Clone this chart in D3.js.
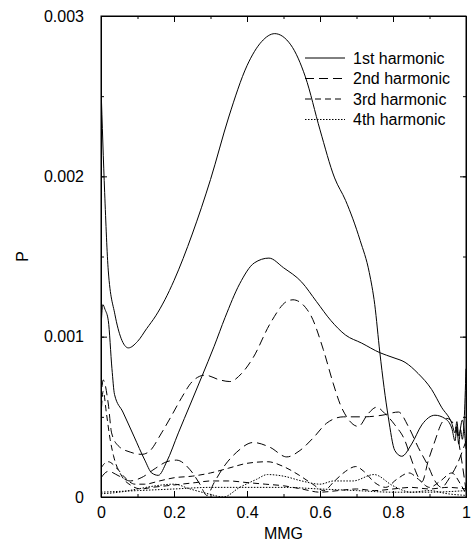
<!DOCTYPE html>
<html>
<head>
<meta charset="utf-8">
<script src="https://cdn.jsdelivr.net/npm/d3@7"></script>
<style>
  body { margin: 0; background: #fff; }
  text { font-family: "Liberation Sans", Arial, sans-serif; font-size: 16px; fill: #000; }
</style>
</head>
<body>
<div id="chart"></div>
<script>
// harmonic power curves as [MMG, P]
var h1a = [[0,0.00256],[0.01,0.0019],[0.02,0.00141],[0.038,0.00114],[0.055,0.00099],[0.075,0.00093],[0.1,0.00097],[0.125,0.00105],[0.15,0.00113],[0.175,0.00123],[0.2,0.00135],[0.25,0.00164],[0.3,0.00198],[0.35,0.00237],[0.4,0.00269],[0.44,0.00284],[0.476,0.00289],[0.52,0.00282],[0.56,0.00262],[0.6,0.00229],[0.64,0.00199],[0.67,0.00185],[0.71,0.0016],[0.735,0.0014],[0.75,0.0012],[0.764,0.0009],[0.787,0.0005],[0.805,0.00029],[0.824,0.000254],[0.851,0.00033],[0.879,0.00045],[0.915,0.00051],[0.942,0.00049],[0.961,0.00043],[0.97,0.00035],[0.975,0.00044],[0.98,0.00033],[0.985,0.00042],[0.99,0.00036],[0.995,0.00048],[1,0.0008]];
var h1b = [[0,0.00105],[0.005,0.0012],[0.011,0.00117],[0.02,0.0011],[0.03,0.0008],[0.037,0.00064],[0.06,0.00053],[0.09,0.00038],[0.12,0.00023],[0.139,0.00015],[0.157,0.000135],[0.18,0.00022],[0.212,0.0004],[0.245,0.00058],[0.276,0.00075],[0.31,0.00094],[0.34,0.00112],[0.38,0.00133],[0.42,0.00146],[0.46,0.00149],[0.5,0.00143],[0.55,0.00134],[0.59,0.00122],[0.63,0.0011],[0.67,0.00101],[0.714,0.00096],[0.764,0.0009],[0.8,0.00087],[0.833,0.00084],[0.869,0.00077],[0.906,0.00067],[0.933,0.00056],[0.961,0.00046],[0.97,0.0004],[0.975,0.00047],[0.98,0.00038],[0.99,0.00048],[1,0.0003]];
var h2a = [[0,0.0006],[0.006,0.00073],[0.02,0.00058],[0.029,0.0004],[0.047,0.00032],[0.08,0.00028],[0.111,0.000266],[0.13,0.00028],[0.166,0.0004],[0.194,0.00051],[0.221,0.00062],[0.25,0.00072],[0.285,0.00076],[0.326,0.00073],[0.353,0.00072],[0.385,0.00077],[0.417,0.00087],[0.463,0.00108],[0.509,0.00122],[0.526,0.00123],[0.573,0.00114],[0.609,0.00092],[0.636,0.00071],[0.655,0.00058],[0.673,0.0005],[0.705,0.00044],[0.732,0.00052],[0.755,0.00056],[0.778,0.00052],[0.805,0.00045],[0.833,0.00035],[0.851,0.00023],[0.869,0.000125],[0.879,0.000094],[0.897,0.00023],[0.915,0.00035],[0.933,0.00046],[0.947,0.00049],[0.97,0.00044],[0.988,0.00023],[1,0.00004]];
var h2b = [[0,0.00012],[0.02,0.00016],[0.05,0.00013],[0.08,0.0001],[0.11,0.00012],[0.15,0.00018],[0.18,0.00022],[0.207,0.00023],[0.244,0.00017],[0.271,0.00008],[0.29,0.00001],[0.31,0.00009],[0.34,0.0002],[0.372,0.00028],[0.417,0.00034],[0.463,0.00031],[0.509,0.00025],[0.545,0.00029],[0.582,0.00037],[0.618,0.00046],[0.664,0.0005],[0.72,0.0005],[0.77,0.00051],[0.815,0.00053],[0.842,0.00044],[0.869,0.00031],[0.897,0.00019],[0.915,0.0001],[0.933,0.00006],[0.955,0.00012],[0.975,0.0002],[1,0.00035]];
var h3a = [[0,0.0005],[0.006,0.00066],[0.015,0.00052],[0.025,0.00036],[0.034,0.00026],[0.057,0.00013],[0.084,0.00007],[0.11,0.00005],[0.14,0.00006],[0.18,0.00007],[0.22,0.00008],[0.26,0.00009],[0.3,0.0001],[0.35,0.0001],[0.4,0.00009],[0.45,0.00008],[0.5,0.00007],[0.55,0.00005],[0.6,0.00003],[0.65,0.00004],[0.7,0.00005],[0.75,0.00004],[0.8,0.00005],[0.85,0.00006],[0.9,0.00005],[0.95,0.00006],[1,0.00005]];
var h3b = [[0,0.00018],[0.01,0.00021],[0.02,0.00022],[0.043,0.00018],[0.066,0.00012],[0.093,0.00008],[0.12,0.00008],[0.16,0.0001],[0.2,0.00012],[0.25,0.00013],[0.3,0.00015],[0.35,0.00018],[0.4,0.00021],[0.456,0.00022],[0.5,0.00019],[0.54,0.00014],[0.58,0.00008],[0.61,0.00004],[0.64,0.0001],[0.67,0.00016],[0.698,0.00019],[0.72,0.00016],[0.75,0.00009],[0.78,0.00006],[0.81,0.00011],[0.844,0.00015],[0.87,0.00011],[0.9,0.00006],[0.93,0.0001],[0.961,0.00015],[0.985,0.00008],[1,0.00002]];
var h4a = [[0,0.00002],[0.05,0.00003],[0.1,0.00005],[0.15,0.00007],[0.2,0.00008],[0.244,0.00005],[0.294,0.00002],[0.335,0],[0.38,0.00006],[0.426,0.00011],[0.456,0.00014],[0.5,0.00013],[0.55,0.0001],[0.6,0.00008],[0.638,0.0001],[0.69,0.0001],[0.748,0.00014],[0.8,0.00007],[0.85,0.00003],[0.9,0.00004],[0.95,0.00002],[1,0.00001]];
var h4b = [[0,0.00003],[0.1,0.00004],[0.2,0.00005],[0.3,0.00006],[0.4,0.00006],[0.5,0.00006],[0.6,0.00005],[0.7,0.00004],[0.8,0.00003],[0.9,0.00003],[1,0.00004]];

var legendLabels = ["1st harmonic", "2nd harmonic", "3rd harmonic", "4th harmonic"];
var dashes = ["none", "9,5", "6,4", "1.5,1.5"];
var curves = [[h1a, 0], [h1b, 0], [h2a, 1], [h2b, 1], [h3a, 2], [h3b, 2], [h4a, 3], [h4b, 3]];

var xTicks = [0, 0.2, 0.4, 0.6, 0.8, 1];
var xTickLabels = ["0", "0.2", "0.4", "0.6", "0.8", "1"];
var yTicks = [0, 0.001, 0.002, 0.003];
var yTickLabels = ["0", "0.001", "0.002", "0.003"];

var W = 474, H = 543;
var margin = {top: 16, right: 8, bottom: 46, left: 101},
	width = W - margin.left - margin.right,
	height = H - margin.top - margin.bottom;

var svg = d3.select("#chart").append("svg")
	.attr("width", W)
	.attr("height", H);

var g = svg.append("g")
	.attr("transform", "translate(" + margin.left + "," + margin.top + ")");

var x = d3.scaleLinear().domain([0, 1]).range([0, width]);
var y = d3.scaleLinear().domain([0, 0.003]).range([height, 0]);

// curves
var line = d3.line()
	.x(function(d) { return x(d[0]); })
	.y(function(d) { return y(d[1]); })
	.curve(d3.curveMonotoneX);

g.append("defs").append("clipPath").attr("id", "clip")
	.append("rect").attr("width", width).attr("height", height);

g.append("g").attr("clip-path", "url(#clip)")
	.selectAll("path")
	.data(curves)
	.enter()
	.append("path")
	.attr("d", function(d) { return line(d[0]); })
	.attr("fill", "none")
	.attr("stroke", "#000")
	.attr("stroke-width", 1)
	.attr("stroke-dasharray", function(d) { return dashes[d[1]]; });

// axes: ticks inside on all four sides
var xMinor = d3.range(0, 1.0001, 0.1);
var yMinor = d3.range(0, 0.00300001, 0.0005);

g.append("g")
	.attr("transform", "translate(0," + height + ")")
	.call(d3.axisBottom(x).tickValues(xMinor).tickSize(-3).tickFormat(""));
g.append("g")
	.call(d3.axisTop(x).tickValues(xMinor).tickSize(-3).tickFormat(""));
g.append("g")
	.call(d3.axisLeft(y).tickValues(yMinor).tickSize(-3).tickFormat(""));
g.append("g")
	.attr("transform", "translate(" + width + ",0)")
	.call(d3.axisRight(y).tickValues(yMinor).tickSize(-3).tickFormat(""));

var xAxis = g.append("g")
	.attr("transform", "translate(0," + height + ")")
	.call(d3.axisBottom(x).tickValues(xTicks).tickSize(-6).tickPadding(10)
		.tickFormat(function(d, i) { return xTickLabels[i]; }));
g.append("g")
	.call(d3.axisTop(x).tickValues(xTicks).tickSize(-6).tickFormat(""));
var yAxis = g.append("g")
	.call(d3.axisLeft(y).tickValues(yTicks).tickSize(-6).tickPadding(17)
		.tickFormat(function(d, i) { return yTickLabels[i]; }));
g.append("g")
	.attr("transform", "translate(" + width + ",0)")
	.call(d3.axisRight(y).tickValues(yTicks).tickSize(-6).tickFormat(""));

g.selectAll(".domain").attr("stroke", "#000");
g.selectAll(".tick line").attr("stroke", "#000");
g.selectAll(".tick text")
	.style("font-family", "'Liberation Sans', Arial, sans-serif")
	.style("font-size", "16px");

// frame
g.append("rect")
	.attr("width", width).attr("height", height)
	.attr("fill", "none").attr("stroke", "#000").attr("stroke-width", 1);

// axis titles
svg.append("text")
	.attr("x", margin.left + width / 2)
	.attr("y", 539)
	.attr("text-anchor", "middle")
	.text("MMG");

svg.append("text")
	.attr("transform", "translate(28," + (margin.top + height / 2) + ") rotate(-90)")
	.attr("text-anchor", "middle")
	.text("P");

// legend
var legend = svg.append("g").attr("transform", "translate(305,58)");
var rows = legend.selectAll("g")
	.data(legendLabels)
	.enter()
	.append("g")
	.attr("transform", function(d, i) { return "translate(0," + (i * 20.5) + ")"; });

rows.append("line")
	.attr("x1", 0).attr("x2", 40)
	.attr("stroke", "#000")
	.attr("stroke-dasharray", function(d, i) { return dashes[i]; });

rows.append("text")
	.attr("x", 48)
	.attr("dy", "0.35em")
	.text(function(d) { return d; });
</script>
</body>
</html>
